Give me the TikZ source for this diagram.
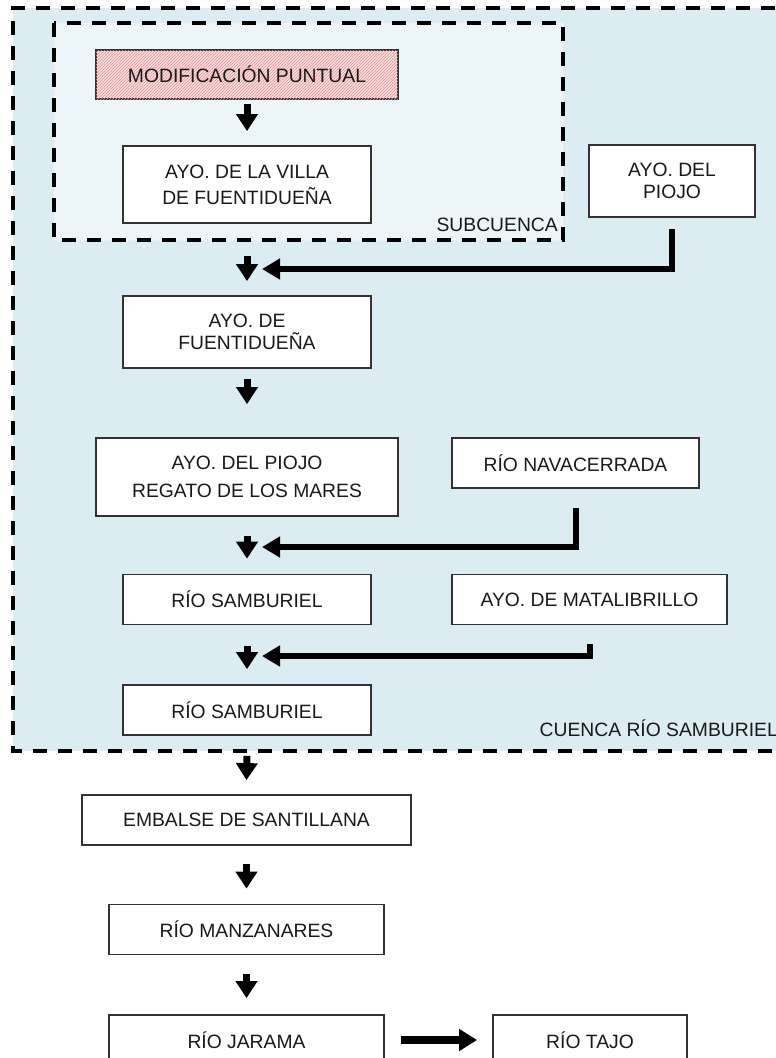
\documentclass[tikz,border=0pt]{standalone}
\usepackage{fontspec}
\setmainfont{Liberation Sans}
\usetikzlibrary{arrows.meta,patterns}
\definecolor{cuencabg}{RGB}{219,236,242}
\definecolor{subbg}{RGB}{228,241,246}
\definecolor{pinkbg}{RGB}{247,221,221}
\definecolor{pinkline}{RGB}{226,150,150}
\definecolor{txt}{RGB}{25,25,25}
\definecolor{boxline}{RGB}{50,50,50}
\tikzset{
  box/.style={draw=boxline, line width=1.8pt, fill=white, inner sep=0pt, align=center,
    text=txt, font=\fontsize{19.3}{22}\selectfont},
  lbl/.style={inner sep=0pt, text=txt, font=\fontsize{19.3}{22}\selectfont},
  dashline/.style={draw=black, line width=3.6pt, dash pattern=on 14pt off 11pt},
  darr/.style={line width=7pt, -{Triangle[width=21pt,length=17pt]}},
  elb/.style={line width=6pt, -{Triangle[width=20pt,length=18pt]}},
  rarr/.style={line width=8pt, -{Triangle[width=21pt,length=18pt]}},
}
\begin{document}
\begin{tikzpicture}[x=1pt,y=-1pt]
\useasboundingbox (0,0) rectangle (776,1058);
% cuenca background
\fill[cuencabg] (13,8) rectangle (800,751);
% subcuenca background
\fill[subbg] (54,23) rectangle (563,240);
\fill[pattern=north east lines, pattern color=white] (54,23) rectangle (563,240);
% dashed frames
\draw[dashline] (800,8) -- (13,8) -- (13,751) -- (800,751);
\draw[dashline] (54,23) rectangle (563,240);
\node[lbl, anchor=base east] (sublbl) at (558,231) {SUBCUENCA};
\node[lbl, anchor=base east] (cuenlbl) at (778,736) {CUENCA RÍO SAMBURIEL};

% boxes
\node[box, minimum width=302pt, minimum height=49pt, fill=pinkbg,
      postaction={pattern=north east lines, pattern color=pinkline}] (mod) at (247,74.5) {};
\node[lbl] (modt) at (247,74.5) {MODIFICACIÓN PUNTUAL};
\node[box, minimum width=248pt, minimum height=77pt, font=\fontsize{19.3}{26}\selectfont] (villa) at (247,184.5) {AYO. DE LA VILLA\\DE FUENTIDUEÑA};
\node[box, minimum width=166pt, minimum height=72pt, font=\fontsize{19.3}{21.5}\selectfont] (piojo) at (672,181) {AYO. DEL\\PIOJO};
\node[box, minimum width=248pt, minimum height=72pt, font=\fontsize{19.3}{22.5}\selectfont] (fuent) at (247,332) {AYO. DE\\FUENTIDUEÑA};
\node[box, minimum width=302pt, minimum height=78pt, font=\fontsize{19.3}{28}\selectfont] (regato) at (247,477) {AYO. DEL PIOJO\\REGATO DE LOS MARES};
\node[box, minimum width=247pt, minimum height=50pt] (nava) at (575.5,463) {RÍO NAVACERRADA};
\node[box, minimum width=248pt, minimum height=50pt] (samb1) at (247,599.5) {RÍO SAMBURIEL};
\node[box, minimum width=275pt, minimum height=50pt] (mata) at (589.5,599.5) {AYO. DE MATALIBRILLO};
\node[box, minimum width=248pt, minimum height=50pt] (samb2) at (247,710) {RÍO SAMBURIEL};
\node[box, minimum width=329pt, minimum height=50pt] (emb) at (246.5,820) {EMBALSE DE SANTILLANA};
\node[box, minimum width=275pt, minimum height=50pt] (manz) at (246.5,929.5) {RÍO MANZANARES};
\node[box, minimum width=275pt, minimum height=50pt] (jar) at (246.5,1040) {RÍO JARAMA};
\node[box, minimum width=194pt, minimum height=50pt] (tajo) at (590,1040) {RÍO TAJO};

% vertical arrows
\draw[darr] ([yshift=-4pt]mod.south) -- ([yshift=14pt]villa.north);
\draw[darr] ([yshift=-32pt]villa.south) -- ([yshift=14pt]fuent.north);
\draw[darr] ([yshift=-10pt]fuent.south) -- ([yshift=33pt]regato.north);
\draw[darr] ([yshift=-19pt]regato.south) -- ([yshift=15pt]samb1.north);
\draw[darr] ([yshift=-21pt]samb1.south) -- ([yshift=15pt]samb2.north);
\draw[darr] ([yshift=-20pt]samb2.south) -- ([yshift=14pt]emb.north);
\draw[darr] ([yshift=-18pt]emb.south) -- ([yshift=15pt]manz.north);
\draw[darr] ([yshift=-19pt]manz.south) -- ([yshift=16pt]jar.north);

% elbow arrows
\coordinate (e1) at (262,269);
\coordinate (e2) at (262,547);
\coordinate (e3) at (262,656);
\draw[elb] ([yshift=-11pt]piojo.south) |- (e1);
\draw[elb] ([yshift=-19pt]nava.south) |- (e2);
\draw[elb] ([yshift=-19pt]mata.south) |- (e3);

% right arrow
\draw[rarr] ([xshift=16pt]jar.east) -- ([xshift=-15pt]tajo.west);
\end{tikzpicture}
\end{document}
